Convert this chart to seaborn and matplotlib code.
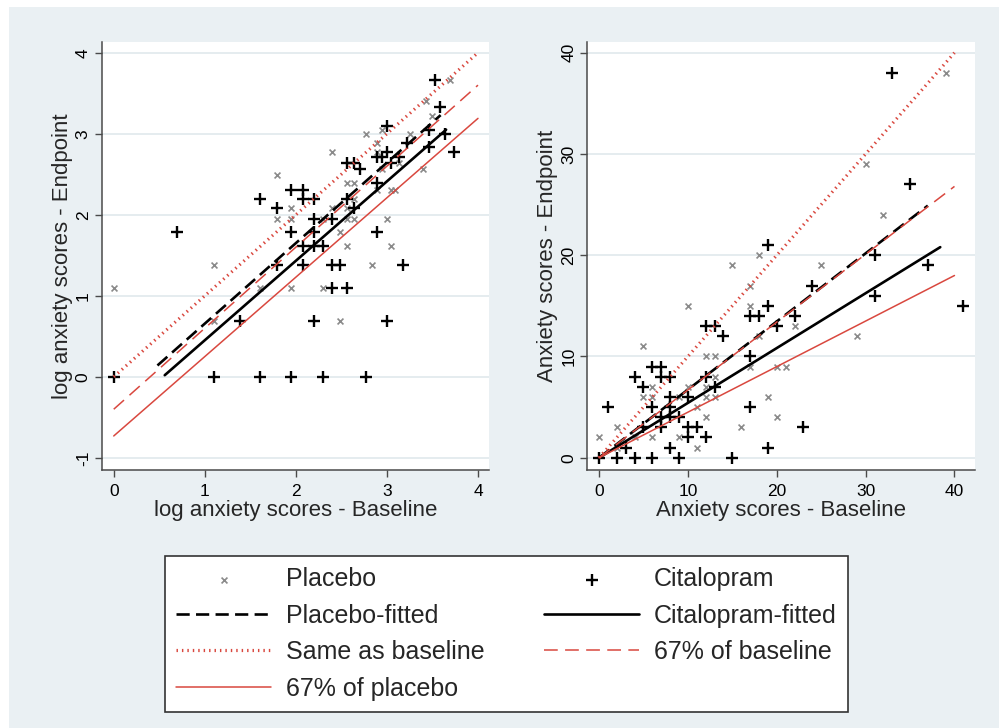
import numpy as np
import pandas as pd
import matplotlib
matplotlib.use("Agg")
import matplotlib.pyplot as plt
import seaborn as sns
from matplotlib.patches import Rectangle

# -------------raw anxiety scores (baseline, endpoint)-------------
placebo_base = [0, 2, 2, 4, 5, 5, 6, 6, 6, 9, 9, 10, 10, 11, 11, 12, 13, 12, 12, 13,
                13, 12, 15, 16, 17, 17, 17, 18, 18, 19, 20, 21, 20, 22, 25, 29, 30, 32, 39]
placebo_end = [2, 3, 1, 2, 11, 6, 7, 6, 2, 2, 6, 15, 7, 5, 1, 10, 10, 7, 6, 6,
               8, 4, 19, 3, 17, 15, 9, 20, 12, 6, 9, 9, 4, 13, 19, 12, 29, 24, 38]
cital_base = [0, 1, 2, 3, 4, 4, 5, 5, 6, 6, 6, 7, 7, 7, 7, 8, 8, 8, 8, 8, 9, 9, 10, 10, 10,
              11, 12, 13, 12, 12, 13, 14, 15, 17, 18, 17, 17, 19, 19, 19, 20, 22, 23, 24,
              31, 31, 33, 35, 37, 41]
cital_end = [0, 5, 0, 1, 0, 8, 7, 3, 9, 5, 0, 9, 8, 4, 3, 8, 6, 5, 4, 1, 4, 0, 6, 3, 2,
             3, 13, 13, 8, 2, 7, 12, 0, 14, 14, 10, 5, 21, 15, 1, 13, 14, 3, 17,
             20, 16, 38, 27, 19, 15]

# -------------reference / fitted lines (end points)-------------
# right panel, raw scores
raw_ref_x = [0, 40]
raw_same_y = [0, 40]
raw_67base_y = [0, 26.8]
raw_67plac_y = [0, 18.0]
raw_plac_fit_x = [0, 37.0]
raw_plac_fit_y = [0, 24.9]
raw_cital_fit_x = [0, 38.4]
raw_cital_fit_y = [0, 20.8]
# left panel, log scores
log_ref_x = [0, 4]
log_same_y = [0, 4]
log_67base_y = [-0.40, 3.60]
log_67plac_y = [-0.73, 3.19]
log_plac_fit_x = [0.48, 3.59]
log_plac_fit_y = [0.14, 3.23]
log_cital_fit_x = [0.56, 3.65]
log_cital_fit_y = [0.02, 3.05]

# -------------styles-------------
RED = '#d9483f'
BG = '#eaf0f3'

sns.set_theme(style="white")
plt.rcParams['font.family'] = ['Liberation Sans', 'DejaVu Sans']


def draw_panel(ax, pb, pe, cb, ce, ref_x, same_y, b67_y, p67_y,
               pfx, pfy, cfx, cfy, xlim, ylim, xticks, yticks, xlabel, ylabel):
    ax.set_facecolor('white')
    sns.scatterplot(x=pb, y=pe, ax=ax, marker='x', s=18, color='#8a8a8a',
                    linewidth=1.2, label='Placebo', legend=False, zorder=3)
    sns.scatterplot(x=cb, y=ce, ax=ax, marker='+', s=80, color='black',
                    linewidth=1.7, label='Citalopram', legend=False, zorder=3)
    sns.lineplot(x=pfx, y=pfy, ax=ax, color='black', linewidth=1.9,
                 linestyle=(0, (5.0, 2.4)), errorbar=None, label='Placebo-fitted',
                 legend=False, zorder=4)
    sns.lineplot(x=cfx, y=cfy, ax=ax, color='black', linewidth=1.9,
                 errorbar=None, label='Citalopram-fitted', legend=False, zorder=4)
    sns.lineplot(x=ref_x, y=same_y, ax=ax, color=RED, linewidth=2.3,
                 linestyle=(0, (0.45, 1.25)), errorbar=None, label='Same as baseline',
                 legend=False, zorder=4)
    sns.lineplot(x=ref_x, y=b67_y, ax=ax, color=RED, linewidth=1.1,
                 linestyle=(0, (9.0, 4.8)), errorbar=None, label='67% of baseline',
                 legend=False, zorder=4)
    sns.lineplot(x=ref_x, y=p67_y, ax=ax, color=RED, linewidth=1.1,
                 errorbar=None, label='67% of placebo', legend=False, zorder=4)

    ax.set(xlim=xlim, ylim=ylim, xticks=xticks, yticks=yticks)
    ax.set_xticklabels([str(t) for t in xticks], fontsize=12.5)
    ax.set_yticklabels([str(t) for t in yticks], fontsize=12.5, rotation=90, va='center')
    ax.set_xlabel(xlabel, fontsize=16, labelpad=1)
    ax.set_ylabel(ylabel, fontsize=16, labelpad=2)
    ax.yaxis.grid(True, color='#e3eaee', linewidth=1.3)
    ax.xaxis.grid(False)
    ax.set_axisbelow(True)
    for side in ['top', 'right']:
        ax.spines[side].set_visible(False)
    for side in ['left', 'bottom']:
        ax.spines[side].set_color('#4a4a4a')
        ax.spines[side].set_linewidth(1.1)
    ax.tick_params(axis='both', direction='out', length=5, width=1.0, color='#4a4a4a',
                   labelcolor='black', bottom=True, left=True)
    ax.tick_params(axis='x', pad=5)
    ax.tick_params(axis='y', pad=3)


fig = plt.figure(figsize=(9.99, 7.28), dpi=100, facecolor='white')
fig.add_artist(Rectangle((9 / 999, 0), 1, 721 / 728, transform=fig.transFigure,
                         facecolor=BG, edgecolor='none', zorder=-10))

ax1 = fig.add_axes([0.102, 0.3544, 0.3874, 0.5883])
ax2 = fig.add_axes([0.5879, 0.3544, 0.388, 0.5883])

draw_panel(ax1, np.log1p(placebo_base), np.log1p(placebo_end),
           np.log1p(cital_base), np.log1p(cital_end),
           log_ref_x, log_same_y, log_67base_y, log_67plac_y,
           log_plac_fit_x, log_plac_fit_y, log_cital_fit_x, log_cital_fit_y,
           (-0.13, 4.12), (-1.15, 4.136), [0, 1, 2, 3, 4], [-1, 0, 1, 2, 3, 4],
           'log anxiety scores - Baseline', 'log anxiety scores - Endpoint')

draw_panel(ax2, placebo_base, placebo_end, cital_base, cital_end,
           raw_ref_x, raw_same_y, raw_67base_y, raw_67plac_y,
           raw_plac_fit_x, raw_plac_fit_y, raw_cital_fit_x, raw_cital_fit_y,
           (-1.32, 42.3), (-1.21, 41.09), [0, 10, 20, 30, 40], [0, 10, 20, 30, 40],
           'Anxiety scores - Baseline', 'Anxiety scores - Endpoint')

# legend, filled row by row like the original
handles, labels = ax1.get_legend_handles_labels()
order = ['Placebo', 'Placebo-fitted', 'Same as baseline', '67% of placebo',
         'Citalopram', 'Citalopram-fitted', '67% of baseline']
lookup = dict(zip(labels, handles))
leg = fig.legend([lookup[k] for k in order], order, loc='lower left',
                 bbox_to_anchor=(0.165, 0.022, 0.684, 0.213), mode='expand', ncol=2,
                 frameon=True, fancybox=False, edgecolor='#333333', framealpha=1,
                 fontsize=18, handlelength=3.8, handletextpad=0.6, labelspacing=0.5,
                 borderpad=0.45, borderaxespad=0, scatterpoints=1)
leg.get_frame().set_linewidth(1.2)

fig.savefig('out.png', dpi=100, facecolor=fig.get_facecolor())
